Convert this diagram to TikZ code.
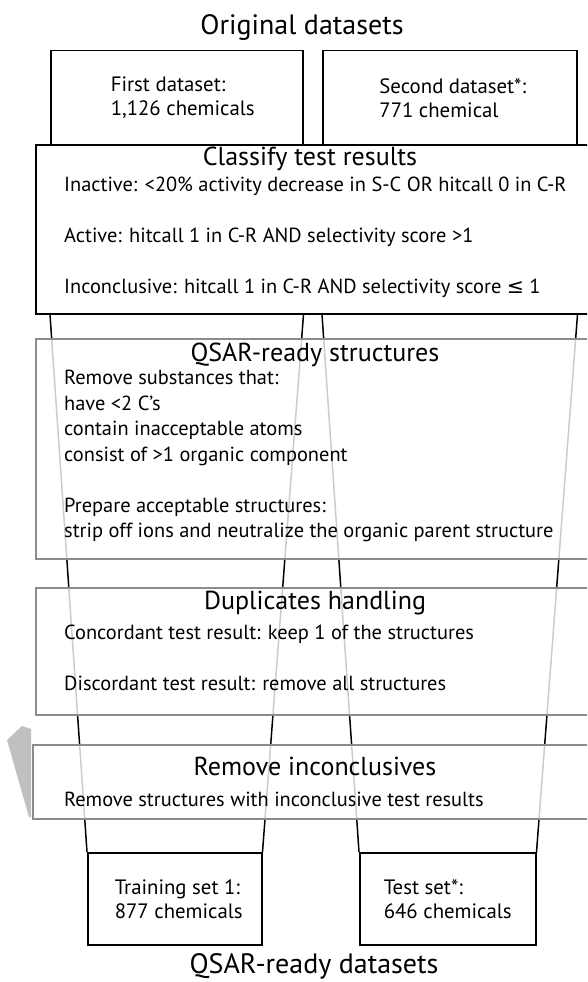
\documentclass[tikz,border=0pt]{standalone}
\usepackage{fontspec}
\setmainfont{PT Sans}
\newfontfamily\symbfont{DejaVu Sans}
\definecolor{framegray}{RGB}{140,140,140}
\definecolor{wedgegray}{RGB}{192,192,192}
\tikzset{
	setbox/.style={draw=black, line width=1.5pt, fill=white, inner sep=0pt, anchor=north west},
	stepframe/.style={draw=framegray, line width=1.5pt, fill=white, fill opacity=0.8, text opacity=1, inner sep=0pt, anchor=north west},
	heading/.style={font=\fontsize{26}{30}\selectfont},
	outertitle/.style={font=\fontsize{28}{32}\selectfont},
	settext/.style={align=left, font=\fontsize{20.8}{24}\selectfont},
	bodytext/.style={font=\fontsize{20.4}{25.5}\selectfont, align=left, anchor=north west, inner sep=0pt},
	funnel/.style={line width=1.5pt}
}
\begin{document}
\begin{tikzpicture}[x=1pt,y=-1pt]
	\useasboundingbox (0,0) rectangle (587,982);
	\clip (0,0) rectangle (587,982);
	\fill [white] (0,0) rectangle (587,982);
	
	% original datasets
	\node [outertitle] (origtitle) at (302,28) {Original datasets};
	\node [setbox, minimum width=252, minimum height=94] (first) at (50,50) {};
	\node [setbox, minimum width=254, minimum height=94] (second) at (322,50) {};
	\node [settext] (firsttext) at ([xshift=6]first.center)
	{
		First dataset:\\
		1,126 chemicals
	};
	\node [settext] (secondtext) at ([xshift=3]second.center)
	{
		Second dataset*:\\
		771 chemical
	};
	
	% classify step
	\node [setbox, minimum width=560, minimum height=169] (classify) at (35,144) {};
	\node [heading] (classifytitle) at (310,159) {Classify test results};
	\node [bodytext] (classifytext) at (64,177)
	{
		Inactive: <20\% activity decrease in S-C OR hitcall 0 in C-R\\[25.5pt]
		Active: hitcall 1 in C-R AND selectivity score >1\\[25.5pt]
		Inconclusive: hitcall 1 in C-R AND selectivity score {\symbfont ≤} 1
	};
	
	% final datasets
	\node [setbox, minimum width=174, minimum height=92] (train) at (87,852) {};
	\node [setbox, minimum width=176, minimum height=92] (test) at (359,852) {};
	
	% funnel
	\draw [funnel] (first.west |- classify.south) -- (train.north west);
	\draw [funnel] (first.east |- classify.south) -- (train.north east);
	\draw [funnel] (second.west |- classify.south) -- (test.north west);
	\draw [funnel] (second.east |- classify.south) -- (test.north east);
	
	% QSAR-ready structures
	\node [stepframe, minimum width=560, minimum height=220] (qsar) at (35,338) {};
	\node [heading] (qsartitle) at (315,355) {QSAR-ready structures};
	\node [bodytext] (qsartext) at (64,370)
	{
		Remove substances that:\\
		have <2 C’s\\
		contain inacceptable atoms\\
		consist of >1 organic component\\[25.5pt]
		Prepare acceptable structures:\\
		strip off ions and neutralize the organic parent structure
	};
	
	% duplicates
	\node [stepframe, minimum width=560, minimum height=127] (dupl) at (35,587) {};
	\node [heading] (dupltitle) at (315,603) {Duplicates handling};
	\node [bodytext] (dupltext) at (64,625)
	{
		Concordant test result: keep 1 of the structures\\[25.5pt]
		Discordant test result: remove all structures
	};
	
	% inconclusives
	\fill [wedgegray] (7,740) -- (22,726) -- (31,729) -- (31,817) -- (29,817) -- cycle;
	\node [stepframe, minimum width=563, minimum height=74] (incl) at (32,744) {};
	\node [heading] (incltitle) at (315,766) {Remove inconclusives};
	\node [bodytext] (incltext) at (64,792)
	{Remove structures with inconclusive test results};
	
	% box texts on top
	\node [settext] (traintext) at ([xshift=4]train.center)
	{
		Training set 1:\\
		877 chemicals
	};
	\node [settext] (testtext) at (test.center)
	{
		Test set*:\\
		646 chemicals
	};
	\node [outertitle] (endtitle) at (314,966) {QSAR-ready datasets};
	
\end{tikzpicture}
\end{document}
